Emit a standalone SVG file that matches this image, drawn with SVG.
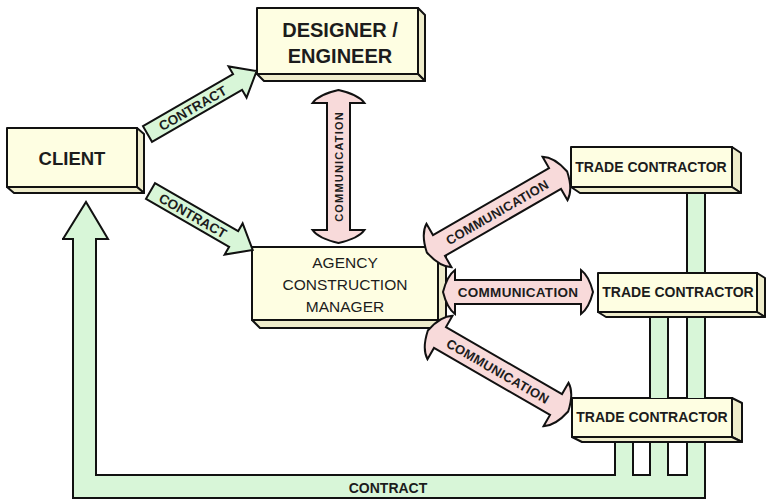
<svg xmlns="http://www.w3.org/2000/svg" width="766" height="500" viewBox="0 0 766 500">
<style>
.front{fill:#fefee2;stroke:#111;stroke-width:2;stroke-linejoin:round}
.side{fill:#eeeccb;stroke:#111;stroke-width:2;stroke-linejoin:round}
.green{fill:#d8f6d8}
.gline{fill:none;stroke:#111;stroke-width:2;stroke-linejoin:miter}
.garrow{fill:#d8f6d8;stroke:#111;stroke-width:2;stroke-linejoin:miter}
.parrow{fill:#f8dada;stroke:#111;stroke-width:2;stroke-linejoin:miter}
text{font-family:"Liberation Sans",Arial,sans-serif;fill:#1c1c1c;text-anchor:middle}
.big{font-size:20px;font-weight:bold}
.mid{font-size:15.5px}
.tc{font-size:14px;font-weight:bold}
.lab{font-size:13.5px;font-weight:bold}
</style>
<rect width="766" height="500" fill="#fff"/>

<g id="client">
<polygon class="side" points="137,128 144,134 144,193 137,187"/>
<polygon class="side" points="7,187 137,187 144,193 14,193"/>
<rect class="front" x="7" y="128" width="130" height="59"/>
<text class="big" x="72" y="165" style="font-size:18.5px">CLIENT</text>
</g>

<g id="designer">
<polygon class="side" points="418,8 425,15 425,81 418,74"/>
<polygon class="side" points="257,74 418,74 425,81 264,81"/>
<rect class="front" x="257" y="8" width="161" height="66"/>
<text class="big" x="340" y="37">DESIGNER /</text>
<text class="big" x="340" y="63">ENGINEER</text>
</g>

<g id="agency">
<polygon class="side" points="438,247 446,255 446,328 438,320"/>
<polygon class="side" points="252,320 438,320 446,328 260,328"/>
<rect class="front" x="252" y="247" width="186" height="73"/>
<text class="mid" x="345" y="268">AGENCY</text>
<text class="mid" x="345" y="290">CONSTRUCTION</text>
<text class="mid" x="345" y="312">MANAGER</text>
</g>

<g id="trade1">
<polygon class="side" points="732,147 741,153 741,193 732,187"/>
<polygon class="side" points="571,187 732,187 741,193 580,193"/>
<rect class="front" x="571" y="147" width="161" height="40"/>
<text class="tc" x="651" y="172">TRADE CONTRACTOR</text>
</g>

<g id="trade2">
<polygon class="side" points="757,273 765,278 765,317 757,312"/>
<polygon class="side" points="598,312 757,312 765,317 606,317"/>
<rect class="front" x="598" y="273" width="159" height="39"/>
<text class="tc" x="678" y="297">TRADE CONTRACTOR</text>
</g>

<g id="trade3">
<polygon class="side" points="732,398 742,403 742,442 732,437"/>
<polygon class="side" points="572,437 732,437 742,442 582,442"/>
<rect class="front" x="572" y="398" width="160" height="39"/>
<text class="tc" x="652" y="422">TRADE CONTRACTOR</text>
</g>

<g id="connectors">
<!-- contract feedback arrow -->
<path class="green" d="M63,239 L86,202 L108,239 L96,239 L96,475 L615,475 L615,443 L633,443 L633,475 L650,475 L650,443 L668,443 L668,475 L687,475 L687,443 L705,443 L705,498 L73,498 L73,239 Z"/>
<path class="gline" d="M63,239 L86,202 L108,239 L96,239 L96,475 L615,475 L615,443 M633,443 L633,475 L650,475 L650,443 M668,443 L668,475 L687,475 L687,443 M705,443 L705,498 L73,498 L73,239 L62,239"/>
<rect class="green" x="687" y="194" width="18" height="78"/>
<path class="gline" d="M687,194 V272 M705,194 V272"/>
<rect class="green" x="650" y="318" width="18" height="80"/>
<rect class="green" x="687" y="318" width="18" height="80"/>
<path class="gline" d="M650,318 V398 M668,318 V398 M687,318 V398 M705,318 V398"/>
<text class="lab" x="388" y="493" style="font-size:14px">CONTRACT</text>

<!-- contract arrows -->
<g transform="translate(147.5,134) rotate(-30)">
<path class="garrow" d="M0,-9 L104,-9 L104,-18 L126,0 L104,18 L104,9 L0,9 Z"/>
<text class="lab" x="52" y="5">CONTRACT</text>
</g>
<g transform="translate(150.5,191) rotate(30)">
<path class="garrow" d="M0,-9 L96,-9 L96,-18 L118,0 L96,18 L96,9 L0,9 Z"/>
<text class="lab" x="49" y="5">CONTRACT</text>
</g>

<!-- communication arrows -->
<g transform="translate(338.5,166.5) rotate(-90)">
<path class="parrow" d="M-76.5,0 Q-72,-20 -63.5,-26 L-63.5,-11.5 L63.5,-11.5 L63.5,-26 Q72,-20 76.5,0 Q72,20 63.5,26 L63.5,11.5 L-63.5,11.5 L-63.5,26 Q-72,20 -76.5,0 Z"/>
<text x="0" y="4" style="font-size:11px;font-weight:bold;letter-spacing:1.2px">COMMUNICATION</text>
</g>
<g transform="translate(518,292)">
<path class="parrow" d="M-75,0 Q-71,-16 -63,-22 L-63,-12 L63,-12 L63,-22 Q71,-16 75,0 Q71,16 63,22 L63,12 L-63,12 L-63,22 Q-71,16 -75,0 Z"/>
<text class="lab" x="0" y="5" style="letter-spacing:0.3px">COMMUNICATION</text>
</g>
<g transform="translate(497,212) rotate(-30)">
<path class="parrow" d="M-81,0 Q-77,-19 -67,-25 L-67,-12 L67,-12 L67,-25 Q77,-19 81,0 Q77,19 67,25 L67,12 L-67,12 L-67,25 Q-77,19 -81,0 Z"/>
<text class="lab" x="0" y="5" style="font-size:13px;letter-spacing:0.3px">COMMUNICATION</text>
</g>
<g transform="translate(498,371) rotate(30)">
<path class="parrow" d="M-81,0 Q-77,-19 -67,-25 L-67,-12 L67,-12 L67,-25 Q77,-19 81,0 Q77,19 67,25 L67,12 L-67,12 L-67,25 Q-77,19 -81,0 Z"/>
<text class="lab" x="0" y="5" style="font-size:13px;letter-spacing:0.3px">COMMUNICATION</text>
</g>
</g>
</svg>
